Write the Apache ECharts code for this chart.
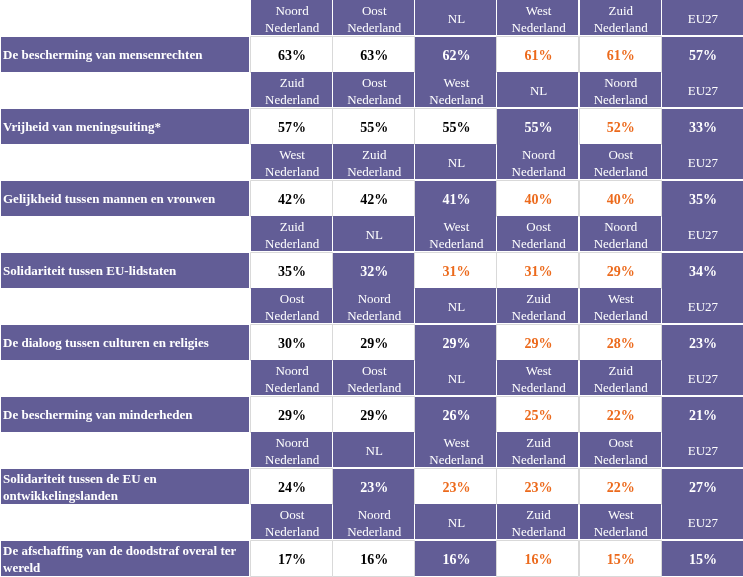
<!DOCTYPE html>
<html><head><meta charset="utf-8">
<script src="https://cdn.jsdelivr.net/npm/echarts@6/dist/echarts.min.js"></script>
<style>html,body{margin:0;padding:0;background:#fff}#c{width:743px;height:577px}</style>
</head><body><div id="c"></div>
<script>
const topics = [
  'De bescherming van mensenrechten',
  'Vrijheid van meningsuiting*',
  'Gelijkheid tussen mannen en vrouwen',
  'Solidariteit tussen EU-lidstaten',
  'De dialoog tussen culturen en religies',
  'De bescherming van minderheden',
  'Solidariteit tussen de EU en ontwikkelingslanden',
  'De afschaffing van de doodstraf overal ter wereld'
];
const headers = [
  ['Noord Nederland','Oost Nederland','NL','West Nederland','Zuid Nederland','EU27'],
  ['Zuid Nederland','Oost Nederland','West Nederland','NL','Noord Nederland','EU27'],
  ['West Nederland','Zuid Nederland','NL','Noord Nederland','Oost Nederland','EU27'],
  ['Zuid Nederland','NL','West Nederland','Oost Nederland','Noord Nederland','EU27'],
  ['Oost Nederland','Noord Nederland','NL','Zuid Nederland','West Nederland','EU27'],
  ['Noord Nederland','Oost Nederland','NL','West Nederland','Zuid Nederland','EU27'],
  ['Noord Nederland','NL','West Nederland','Zuid Nederland','Oost Nederland','EU27'],
  ['Oost Nederland','Noord Nederland','NL','Zuid Nederland','West Nederland','EU27']
];
const values = [
  [63,63,62,61,61,57],
  [57,55,55,55,52,33],
  [42,42,41,40,40,35],
  [35,32,31,31,29,34],
  [30,29,29,29,28,23],
  [29,29,26,25,22,21],
  [24,23,23,23,22,27],
  [17,16,16,16,15,15]
];

const PURPLE = '#625D96';
const ORANGE = '#EC6A1C';
const FONT = '"Liberation Serif", "Times New Roman", serif';

const rowIdx = [];
for (let i = 0; i < topics.length * 2; i++) rowIdx.push(String(i));

// build cells for the data columns
const cells = [];
headers.forEach((hdr, t) => {
  const nl = hdr.indexOf('NL');
  hdr.forEach((name, c) => {
    cells.push({ value: [c, 2 * t], kind: 'head', text: name.replace(' ', '\n') });
    let kind;
    if (name === 'NL' || name === 'EU27') kind = 'purple';
    else kind = c < nl ? 'black' : 'orange';
    cells.push({ value: [c, 2 * t + 1], kind: kind, text: values[t][c] + '%' });
  });
});
const labelCells = topics.map((tp, t) => ({ value: [0, 2 * t + 1], text: tp }));

function renderCell(params, api) {
  const d = cells[params.dataIndex];
  const p = api.coord([api.value(0), api.value(1)]);
  const s = api.size([1, 1]);
  const x0 = p[0] - s[0] / 2, y0 = p[1] - s[1] / 2;
  const w = s[0], h = s[1];
  const children = [];
  if (d.kind === 'head' || d.kind === 'purple') {
    children.push({ type: 'rect', shape: { x: Math.round(x0) + 1, y: Math.round(y0) + (d.kind === 'head' ? 0 : 1), width: Math.round(w) - 1, height: Math.round(h) - 1 }, style: { fill: PURPLE } });
  } else {
    children.push({ type: 'rect', shape: { x: Math.round(x0) + 0.5, y: Math.round(y0) + 0.5, width: Math.round(w), height: Math.round(h) }, style: { fill: '#fff', stroke: '#d9d9d9', lineWidth: 1 } });
  }
  const color = d.kind === 'black' ? '#000' : (d.kind === 'orange' ? ORANGE : '#fff');
  children.push({ type: 'text', x: p[0] + 1, y: p[1] + 2, style: {
    text: d.text, fill: color, align: 'center', verticalAlign: 'middle',
    font: (d.kind === 'head' ? 'normal 13px ' : 'bold 14px ') + FONT, lineHeight: 17 } });
  return { type: 'group', children: children };
}

function renderLabel(params, api) {
  const d = labelCells[params.dataIndex];
  const p = api.coord([api.value(0), api.value(1)]);
  const s = api.size([1, 1]);
  const x0 = p[0] - s[0] / 2, y0 = p[1] - s[1] / 2;
  return { type: 'group', children: [
    { type: 'rect', shape: { x: Math.round(x0) + 1, y: Math.round(y0) + 1, width: Math.round(s[0]) - 2, height: Math.round(s[1]) - 1 }, style: { fill: PURPLE } },
    { type: 'text', x: x0 + 3, y: p[1] + 2, style: {
      text: d.text, fill: '#fff', align: 'left', verticalAlign: 'middle',
      font: 'bold 13px ' + FONT, lineHeight: 17, width: 244, overflow: 'break' } }
  ] };
}

const chart = echarts.init(document.getElementById('c'), null, { renderer: 'canvas' });
chart.setOption({
  animation: false,
  backgroundColor: '#fff',
  grid: [
    { left: 0, top: 0, width: 250, height: 576 },
    { left: 250, top: 0, width: 493, height: 576 }
  ],
  xAxis: [
    { type: 'category', gridIndex: 0, data: ['label'], show: false },
    { type: 'category', gridIndex: 1, data: ['0','1','2','3','4','5'], show: false }
  ],
  yAxis: [
    { type: 'category', gridIndex: 0, data: rowIdx, inverse: true, show: false },
    { type: 'category', gridIndex: 1, data: rowIdx, inverse: true, show: false }
  ],
  series: [
    { type: 'custom', xAxisIndex: 0, yAxisIndex: 0, data: labelCells.map(d => d.value), renderItem: renderLabel, silent: true, clip: false },
    { type: 'custom', xAxisIndex: 1, yAxisIndex: 1, data: cells.map(d => d.value), renderItem: renderCell, silent: true, clip: false }
  ]
});
</script>
</body></html>
